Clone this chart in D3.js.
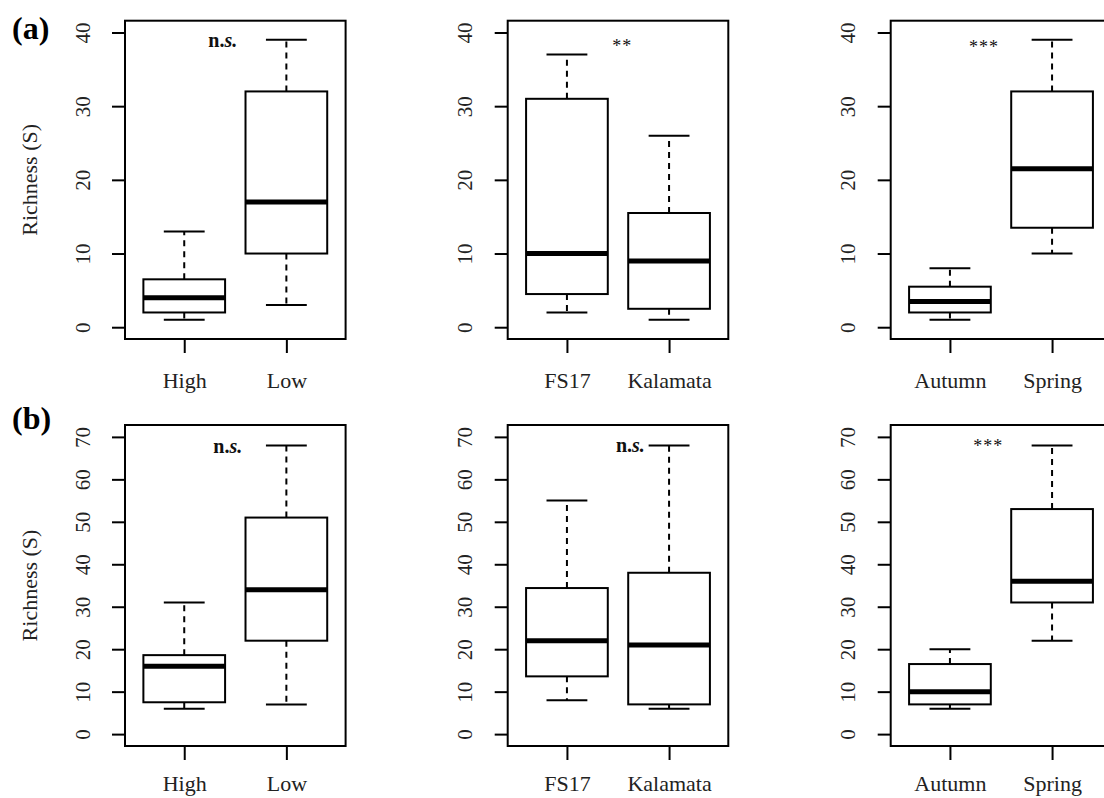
<!DOCTYPE html>
<html>
<head>
<meta charset="utf-8">
<script src="https://cdn.jsdelivr.net/npm/d3@7"></script>
<style>
  html, body { margin: 0; padding: 0; background: #fff; }
  svg, svg text { font-family: 'Liberation Serif', 'Times New Roman', serif !important; }
  svg { display: block; }
</style>
</head>
<body>
<svg id="chart" width="1104" height="798"></svg>
<script>
// ---------------- data ----------------
const rowLabels = ["(a)", "(b)"];
const yAxisTitle = "Richness (S)";

const categoriesAltitude = ["High", "Low"];
const categoriesCultivar = ["FS17", "Kalamata"];
const categoriesSeason = ["Autumn", "Spring"];

// five-number summaries: [min, q1, median, q3, max]
const richnessA_altitude = [[1, 2, 4, 6.5, 13], [3, 10, 17, 32, 39]];
const richnessA_cultivar = [[2, 4.5, 10, 31, 37], [1, 2.5, 9, 15.5, 26]];
const richnessA_season = [[1, 2, 3.5, 5.5, 8], [10, 13.5, 21.5, 32, 39]];

const richnessB_altitude = [[6, 7.5, 16, 18.6, 31], [7, 22, 34, 51, 68]];
const richnessB_cultivar = [[8, 13.6, 22, 34.4, 55], [6, 7, 21, 38, 68]];
const richnessB_season = [[6, 7, 10, 16.5, 20], [22, 31, 36, 53, 68]];

const significanceA = ["n.s.", "**", "***"];
const significanceB = ["n.s.", "n.s.", "***"];

const yTicksA = [0, 10, 20, 30, 40];
const yTicksB = [0, 10, 20, 30, 40, 50, 60, 70];

// ---------------- layout ----------------
const svg = d3.select("#chart");
const panelLefts = [125, 507.7, 890.7];
const panelWidth = 220.6;
const rows = [
  { top: 20.7, bottom: 339, ticks: yTicksA, ymax: 40, label: rowLabels[0], labelY: 38.5, xLabY: 49,
    panels: [
      { cats: categoriesAltitude, stats: richnessA_altitude, sig: significanceA[0], sx: 1.377, sy: 38.05 },
      { cats: categoriesCultivar, stats: richnessA_cultivar, sig: significanceA[1], sx: 1.542, sy: 37.3 },
      { cats: categoriesSeason, stats: richnessA_season, sig: significanceA[2], sx: 1.333, sy: 37.2 }
    ] },
  { top: 425, bottom: 746, ticks: yTicksB, ymax: 70, label: rowLabels[1], labelY: 429, xLabY: 45,
    panels: [
      { cats: categoriesAltitude, stats: richnessB_altitude, sig: significanceB[0], sx: 1.426, sy: 66.3 },
      { cats: categoriesCultivar, stats: richnessB_cultivar, sig: significanceB[1], sx: 1.621, sy: 66.4 },
      { cats: categoriesSeason, stats: richnessB_season, sig: significanceB[2], sx: 1.375, sy: 66.5 }
    ] }
];

const lw = 2;
const serif = "'Liberation Serif', 'Times New Roman', serif";

rows.forEach(row => {
  // row label
  svg.append("text")
    .attr("x", 12).attr("y", row.labelY)
    .style("font-family", serif)
    .attr("font-size", 32).attr("font-weight", "bold").attr("fill", "#000")
    .text(row.label);

  // y title
  svg.append("text")
    .attr("transform", `translate(37,${(row.top + row.bottom) / 2}) rotate(-90)`)
    .attr("text-anchor", "middle")
    .style("font-family", serif)
    .attr("font-size", 22).attr("fill", "#222")
    .text(yAxisTitle);

  row.panels.forEach((p, pi) => {
    const x0 = panelLefts[pi];
    const pad = row.ymax * 0.04;
    const x = d3.scaleLinear().domain([0.42, 2.58]).range([x0, x0 + panelWidth]);
    const y = d3.scaleLinear().domain([-pad, row.ymax + pad]).range([row.bottom, row.top]);
    const g = svg.append("g");

    // y axis
    const ya = g.append("g").attr("transform", `translate(${x0},0)`)
      .call(d3.axisLeft(y).tickValues(row.ticks).tickSize(13).tickSizeOuter(0));
    ya.attr("font-family", null).attr("font-size", null);
    ya.select(".domain").remove();
    ya.selectAll(".tick line").attr("stroke", "#000").attr("stroke-width", lw);
    ya.selectAll(".tick text")
      .attr("x", null).attr("dy", null)
      .attr("transform", "translate(-35.5,0) rotate(-90)")
      .attr("text-anchor", "middle")
      .style("font-family", serif)
      .attr("font-size", 21).attr("fill", "#222");

    // x axis
    const xa = g.append("g").attr("transform", `translate(0,${row.bottom})`)
      .call(d3.axisBottom(x).tickValues([1, 2]).tickFormat(d => p.cats[d - 1]).tickSize(14).tickSizeOuter(0));
    xa.attr("font-family", null).attr("font-size", null);
    xa.select(".domain").remove();
    xa.selectAll(".tick line").attr("stroke", "#000").attr("stroke-width", lw);
    xa.selectAll(".tick text")
      .attr("y", row.xLabY).attr("dy", null)
      .style("font-family", serif)
      .attr("font-size", 22).attr("fill", "#222");

    // boxes
    const bx = g.selectAll("g.bx").data(p.stats).join("g").attr("class", "bx");
    const pos = (d, i) => i + 1;
    // whiskers (dashed)
    bx.append("line")
      .attr("x1", (d, i) => x(pos(d, i))).attr("x2", (d, i) => x(pos(d, i)))
      .attr("y1", d => y(d[3])).attr("y2", d => y(d[4]))
      .attr("stroke", "#000").attr("stroke-width", lw).attr("stroke-dasharray", "6,5");
    bx.append("line")
      .attr("x1", (d, i) => x(pos(d, i))).attr("x2", (d, i) => x(pos(d, i)))
      .attr("y1", d => y(d[1])).attr("y2", d => y(d[0]))
      .attr("stroke", "#000").attr("stroke-width", lw).attr("stroke-dasharray", "6,5");
    // caps
    [0, 4].forEach(k => {
      bx.append("line")
        .attr("x1", (d, i) => x(pos(d, i) - 0.2)).attr("x2", (d, i) => x(pos(d, i) + 0.2))
        .attr("y1", d => y(d[k])).attr("y2", d => y(d[k]))
        .attr("stroke", "#000").attr("stroke-width", lw);
    });
    // box
    bx.append("rect")
      .attr("x", (d, i) => x(pos(d, i) - 0.4))
      .attr("width", (d, i) => x(pos(d, i) + 0.4) - x(pos(d, i) - 0.4))
      .attr("y", d => y(d[3]))
      .attr("height", d => y(d[1]) - y(d[3]))
      .attr("fill", "#fff").attr("stroke", "#000").attr("stroke-width", lw);
    // median
    bx.append("line")
      .attr("x1", (d, i) => x(pos(d, i) - 0.4)).attr("x2", (d, i) => x(pos(d, i) + 0.4))
      .attr("y1", d => y(d[2])).attr("y2", d => y(d[2]))
      .attr("stroke", "#000").attr("stroke-width", 5);

    // frame
    g.append("rect")
      .attr("x", x0).attr("y", row.top)
      .attr("width", panelWidth).attr("height", row.bottom - row.top)
      .attr("fill", "none").attr("stroke", "#000").attr("stroke-width", lw);

    // significance
    const t = g.append("text")
      .attr("x", x(p.sx)).attr("y", y(p.sy))
      .attr("text-anchor", "middle").attr("fill", "#111")
      .style("font-family", serif);
    if (p.sig === "n.s.") {
      t.attr("font-size", 20).attr("font-weight", "bold");
      t.append("tspan").text("n.");
      t.append("tspan").attr("font-style", "italic").text("s.");
    } else {
      t.attr("font-size", 18).attr("letter-spacing", 1).text(p.sig);
    }
  });
});
</script>
</body>
</html>
